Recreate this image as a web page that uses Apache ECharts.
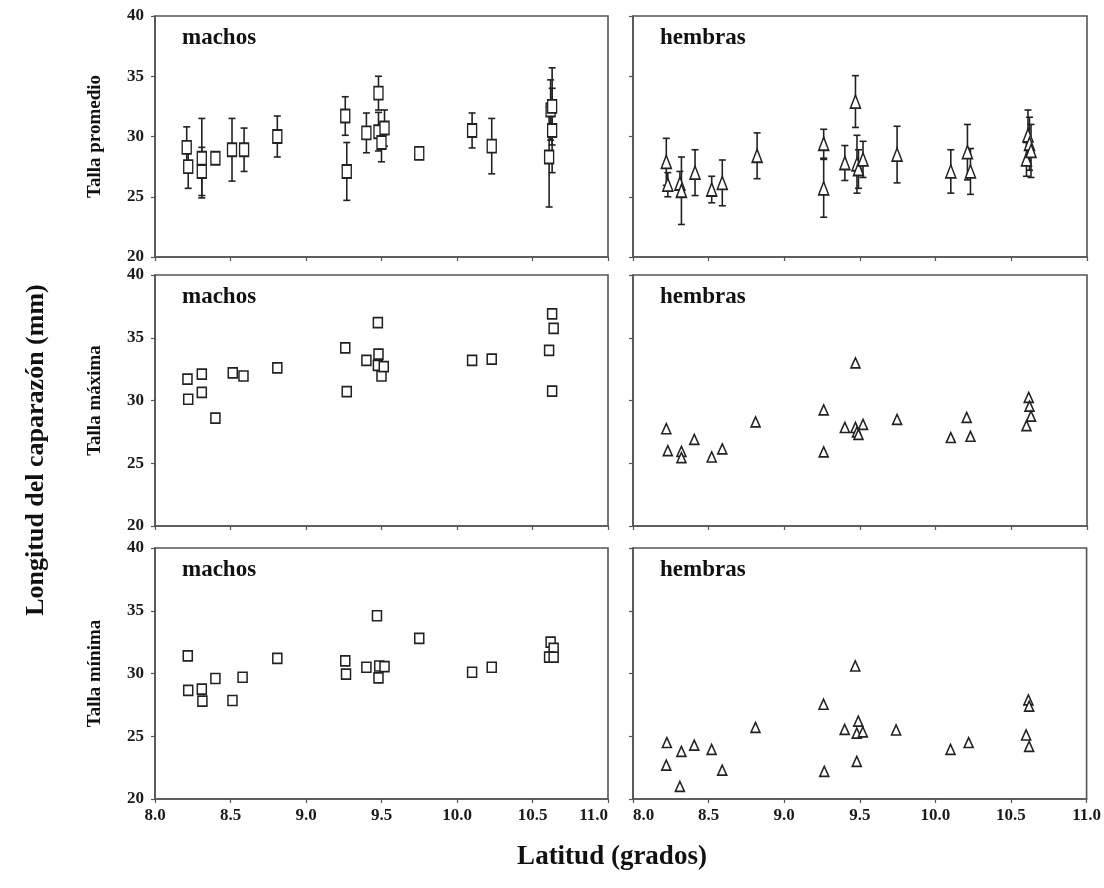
<!DOCTYPE html>
<html><head><meta charset="utf-8">
<script src="https://cdn.jsdelivr.net/npm/echarts@6/dist/echarts.min.js"></script>
<style>html,body{margin:0;padding:0;background:#fff}#c{width:1104px;height:888px}</style>
</head><body><div id="c"></div>
<script>
// ---- Data ----
const xTicks = [8.0, 8.5, 9.0, 9.5, 10.0, 10.5, 11.0];
const yTicks = [20, 25, 30, 35, 40];
const rowLabels = ['Talla promedio', 'Talla máxima', 'Talla mínima'];
const colLabels = ['machos', 'hembras'];

// Talla promedio - machos (mean ± error)
const promMachosLat  = [8.21, 8.22, 8.31, 8.31, 8.40, 8.51, 8.59, 8.81, 9.26, 9.27, 9.40, 9.48, 9.48, 9.50, 9.52, 9.75, 10.10, 10.23, 10.61, 10.62, 10.63, 10.63];
const promMachosMean = [29.1, 27.5, 28.2, 27.1, 28.2, 28.9, 28.9, 30.0, 31.7, 27.1, 30.3, 33.6, 30.4, 29.5, 30.7, 28.6, 30.5, 29.2, 28.3, 32.2, 32.5, 30.5];
const promMachosErr  = [1.7, 1.8, 3.3, 2.0, 0.4, 2.6, 1.8, 1.7, 1.6, 2.4, 1.65, 1.4, 1.6, 1.6, 1.5, 0.4, 1.45, 2.3, 4.15, 2.5, 3.2, 3.5];

// Talla promedio - hembras
const promHembrasLat  = [8.22, 8.23, 8.31, 8.32, 8.41, 8.52, 8.59, 8.82, 9.26, 9.26, 9.40, 9.47, 9.48, 9.49, 9.52, 9.745, 10.10, 10.21, 10.23, 10.60, 10.61, 10.62, 10.63];
const promHembrasMean = [27.9, 26.0, 26.1, 25.5, 27.0, 25.6, 26.15, 28.4, 29.4, 25.7, 27.8, 32.9, 27.7, 27.3, 28.1, 28.5, 27.1, 28.7, 27.1, 28.1, 30.1, 29.4, 28.8];
const promHembrasErr  = [1.95, 1.0, 1.0, 2.8, 1.9, 1.1, 1.9, 1.9, 1.2, 2.4, 1.45, 2.15, 2.4, 1.6, 1.5, 2.35, 1.8, 2.3, 1.9, 1.4, 2.1, 2.2, 2.2];

// Talla máxima
const maxMachosLat = [8.215, 8.22, 8.31, 8.31, 8.40, 8.515, 8.586, 8.81, 9.26, 9.27, 9.40, 9.476, 9.48, 9.476, 9.50, 9.515, 10.10, 10.23, 10.63, 10.64, 10.61, 10.63];
const maxMachosVal = [31.7, 30.1, 32.1, 30.65, 28.6, 32.2, 31.95, 32.6, 34.2, 30.7, 33.2, 36.2, 33.7, 32.8, 31.95, 32.7, 33.2, 33.3, 36.9, 35.75, 34.0, 30.75];
const maxHembrasLat = [8.22, 8.23, 8.32, 8.32, 8.405, 8.52, 8.59, 8.81, 9.26, 9.26, 9.40, 9.47, 9.47, 9.48, 9.49, 9.52, 9.745, 10.10, 10.205, 10.23, 10.615, 10.62, 10.63, 10.60];
const maxHembrasVal = [27.75, 26.0, 25.95, 25.45, 26.9, 25.5, 26.15, 28.3, 29.25, 25.9, 27.85, 33.0, 27.85, 27.5, 27.3, 28.1, 28.5, 27.05, 28.65, 27.15, 30.25, 29.55, 28.75, 28.0];

// Talla mínima
const minMachosLat = [8.217, 8.22, 8.31, 8.314, 8.40, 8.513, 8.58, 8.81, 9.26, 9.265, 9.40, 9.47, 9.485, 9.48, 9.52, 9.75, 10.10, 10.23, 10.62, 10.64, 10.61, 10.64];
const minMachosVal = [31.4, 28.65, 28.75, 27.8, 29.6, 27.85, 29.7, 31.2, 31.0, 29.95, 30.5, 34.6, 30.6, 29.65, 30.55, 32.8, 30.1, 30.5, 32.5, 32.0, 31.3, 31.3];
const minHembrasLat = [8.224, 8.22, 8.32, 8.31, 8.405, 8.52, 8.59, 8.81, 9.26, 9.265, 9.40, 9.47, 9.49, 9.48, 9.52, 9.48, 9.74, 10.10, 10.22, 10.615, 10.62, 10.60, 10.62];
const minHembrasVal = [24.5, 22.7, 23.8, 21.0, 24.3, 23.95, 22.3, 25.7, 27.55, 22.2, 25.55, 30.6, 26.2, 25.25, 25.35, 23.0, 25.5, 23.95, 24.5, 27.9, 27.4, 25.1, 24.2];

// ---- Layout ----
const colLeft = [155, 633], colWidth = [453, 454];
const rowTop = [16, 275, 548], rowHeight = [241, 251, 251];
const FONT = '"Liberation Serif","Times New Roman",serif';
const INK = '#1a1a1a';

const panels = [
  {r:0,c:0,lat:promMachosLat,val:promMachosMean,err:promMachosErr,sym:'rect'},
  {r:0,c:1,lat:promHembrasLat,val:promHembrasMean,err:promHembrasErr,sym:'triangle'},
  {r:1,c:0,lat:maxMachosLat,val:maxMachosVal,sym:'rect'},
  {r:1,c:1,lat:maxHembrasLat,val:maxHembrasVal,sym:'triangle'},
  {r:2,c:0,lat:minMachosLat,val:minMachosVal,sym:'rect'},
  {r:2,c:1,lat:minHembrasLat,val:minHembrasVal,sym:'triangle'}
];

const grid=[], xAxis=[], yAxis=[], series=[], graphic=[];
panels.forEach((p,i)=>{
  grid.push({left:colLeft[p.c], top:rowTop[p.r], width:colWidth[p.c], height:rowHeight[p.r],
    show:true, borderColor:'#555', borderWidth:1.6, backgroundColor:'#fff'});
  const xl = {show:p.r===2, margin:8, color:INK, fontFamily:FONT, fontWeight:'bold', fontSize:17,
      formatter:v=>v.toFixed(1)};
  if (p.c===0) xl.alignMaxLabel = 'right';
  if (p.c===1) xl.alignMinLabel = 'left';
  xAxis.push({gridIndex:i, type:'value', min:xTicks[0], max:xTicks[xTicks.length-1], interval:0.5,
    axisLine:{show:true,onZero:false,lineStyle:{color:'#555',width:1.6}},
    axisTick:{show:true,inside:false,length:4,lineStyle:{color:'#555',width:1.2}},
    splitLine:{show:false}, axisLabel:xl});
  yAxis.push({gridIndex:i, type:'value', min:yTicks[0], max:yTicks[yTicks.length-1], interval:5,
    axisLine:{show:true,lineStyle:{color:'#555',width:1.6}},
    axisTick:{show:true,inside:false,length:4,lineStyle:{color:'#555',width:1.2}},
    splitLine:{show:false},
    axisLabel:{show:p.c===0, margin:11, color:INK, fontFamily:FONT, fontWeight:'bold', fontSize:17}});
  const pts = p.lat.map((x,k)=>[x,p.val[k]]);
  if (p.err){
    const eb = p.lat.map((x,k)=>[x,p.val[k]-p.err[k],p.val[k]+p.err[k]]);
    series.push({type:'custom', xAxisIndex:i, yAxisIndex:i, data:eb, z:2,
      renderItem:(params,api)=>{
        const x=api.value(0), lo=api.coord([x,api.value(1)]), hi=api.coord([x,api.value(2)]);
        const cw=3.5, st={stroke:'#222',lineWidth:1.6};
        return {type:'group',children:[
          {type:'line',shape:{x1:lo[0],y1:lo[1],x2:hi[0],y2:hi[1]},style:st},
          {type:'line',shape:{x1:lo[0]-cw,y1:lo[1],x2:lo[0]+cw,y2:lo[1]},style:st},
          {type:'line',shape:{x1:hi[0]-cw,y1:hi[1],x2:hi[0]+cw,y2:hi[1]},style:st}
        ]};
      }});
  }
  const size = p.sym==='rect' ? (p.r===0?[9,13]:[9,10]) : (p.r===0?[10,13]:[9,10]);
  series.push({type:'scatter', xAxisIndex:i, yAxisIndex:i, data:pts, symbol:p.sym, symbolSize:size, z:3,
    itemStyle:{color:'#fff', borderColor:'#222', borderWidth:1.6, opacity:1}});
  graphic.push({type:'text', left:colLeft[p.c]+27, top:rowTop[p.r]+11, z:10,
    style:{text:colLabels[p.c], font:'bold 23px '+FONT, fill:'#111'}});
});

const rowCenters = rowTop.map((t,k)=>t+rowHeight[k]/2);
rowLabels.forEach((t,k)=>{
  graphic.push({type:'text', x:95, y:rowCenters[k], rotation:Math.PI/2, z:10,
    style:{text:t, font:'bold 19px '+FONT, fill:'#111', align:'center', verticalAlign:'middle'}});
});
graphic.push({type:'text', x:36, y:450, rotation:Math.PI/2, z:10,
  style:{text:'Longitud del caparazón (mm)', font:'bold 26px '+FONT, fill:'#111', align:'center', verticalAlign:'middle'}});
graphic.push({type:'text', x:612, y:857, z:10,
  style:{text:'Latitud (grados)', font:'bold 27px '+FONT, fill:'#111', align:'center', verticalAlign:'middle'}});

const chart = echarts.init(document.getElementById('c'), null, {renderer:'canvas'});
chart.setOption({animation:false, backgroundColor:'#fff', grid, xAxis, yAxis, series, graphic});
</script></body></html>
